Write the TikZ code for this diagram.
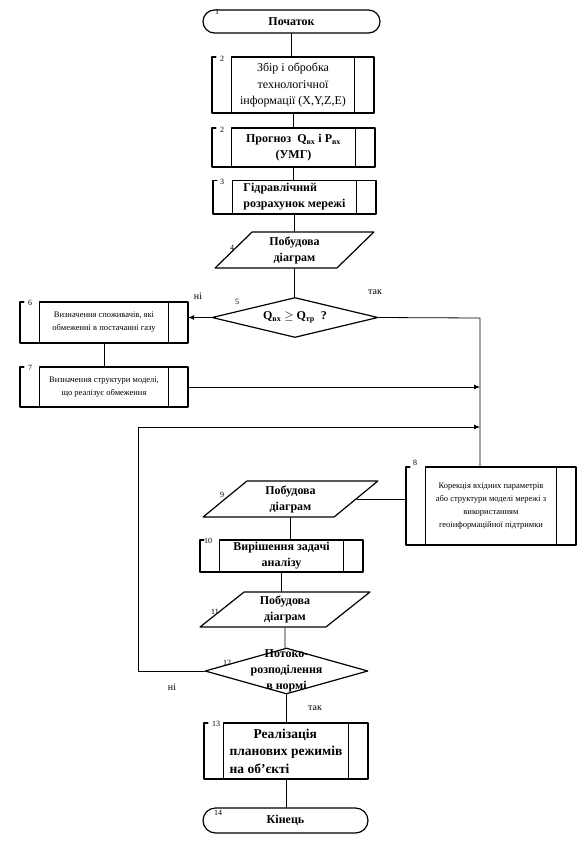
\documentclass[tikz,border=0pt]{standalone}
\usepackage{fontspec}
\setmainfont{Liberation Serif}
\usetikzlibrary{shapes.geometric,arrows.meta}

\tikzset{
  proc/.style={inner sep=0pt, align=center},
  io/.style={trapezium, trapezium stretches=true, draw, line width=1.2pt,
    trapezium left angle=#1, trapezium right angle=180-#1, inner sep=0pt, align=center},
  cond/.style={diamond, draw, line width=1.2pt, inner sep=0pt},
  term/.style={rectangle, draw, line width=1.2pt, inner sep=0pt},
  conn/.style={line width=0.8pt},
  arr/.style={conn, -{Latex[length=6pt,width=5pt]}},
  bt/.style={font=\fontsize{12}{16}\selectfont\bfseries},
  rt/.style={font=\fontsize{12}{16.5}\selectfont},
  st/.style={font=\fontsize{8.5}{13}\selectfont},
  num/.style={font=\fontsize{8}{8}\selectfont, inner sep=0pt},
  lbl/.style={font=\fontsize{10}{10}\selectfont, inner sep=0pt}
}

% frame of a predefined process around a node
\newcommand\procframe[1]{%
  \draw[line width=1.6pt] ([xshift=4pt]#1.north west) -- (#1.north west) -- (#1.south west)
    -- (#1.south east) -- (#1.north east) -- ([xshift=20pt]#1.north west);
  \draw[line width=0.8pt] ([xshift=20pt]#1.north west) -- ([xshift=20pt]#1.south west)
    ([xshift=-20pt]#1.north east) -- ([xshift=-20pt]#1.south east);
}

\begin{document}
\begin{tikzpicture}[x=1pt,y=-1pt,line cap=round,line join=round]
  \useasboundingbox (0,0) rectangle (584,841);

  \node[term, bt, rounded corners=11.5pt, minimum width=177pt, minimum height=23pt] (start) at (291.5,21.5) {Початок};
  \node[proc, rt, minimum width=162pt, minimum height=56pt] (zbir) at (293,85) {Збір і обробка\\технологічної\\інформації (X,Y,Z,E)};
  \node[proc, bt, minimum width=163pt, minimum height=39pt] (prog) at (293.5,147.5) {Прогноз\ \ Q\textsubscript{вх} і P\textsubscript{вх}\\(УМГ)};
  \node[proc, bt, align=left, minimum width=163pt, minimum height=33pt] (hydr) at (294.5,197) {Гідравлічний\\розрахунок мережі};
  \node[io=51, bt, minimum width=159pt, minimum height=36pt] (diag1) at (294.5,250) {Побудова\\діаграм};
  \node[cond, minimum width=166pt, minimum height=40pt] (check) at (295,317.5) {};
  \node[bt] (checkt) at (check) {Q\textsubscript{вх} $\geq$ Q\textsubscript{тр}\ \ ?};
  \node[proc, st, minimum width=168pt, minimum height=41pt] (spoz) at (104,322.5) {Визначення споживачів, які\\обмеженні в постачанні газу};
  \node[proc, st, minimum width=168pt, minimum height=40pt] (strukt) at (104,387) {Визначення структури моделі,\\що реалізує обмеження};
  \node[proc, st, minimum width=170pt, minimum height=78pt] (korek) at (491,506) {Корекція вхідних параметрів\\або структури моделі мережі з\\використанням\\геоінформаційної підтримки};
  \node[io=47, bt, minimum width=175pt, minimum height=36pt] (diag2) at (290.5,499) {Побудова\\діаграм};
  \node[proc, bt, minimum width=163pt, minimum height=32pt] (anal) at (281.5,556) {Вирішення задачі\\аналізу};
  \node[io=45, bt, minimum width=170pt, minimum height=35pt] (diag3) at (285,609.5) {Побудова\\діаграм};
  \node[cond, minimum width=163pt, minimum height=46pt] (norm) at (286.5,671) {};
  \node[bt, align=center] (normt) at (norm) {Потоко-\\розподілення\\в нормі};
  \node[proc, align=left, font=\fontsize{13.5}{17.5}\selectfont\bfseries, minimum width=164pt, minimum height=56pt] (real) at (286,751) {\hspace*{24pt}Реалізація\\планових режимів\\на об'єкті};
  \node[term, bt, rounded corners=12.5pt, minimum width=165pt, minimum height=25pt] (stop) at (285.5,820.5) {Кінець};

  \procframe{zbir}
  \procframe{prog}
  \procframe{hydr}
  \procframe{spoz}
  \procframe{strukt}
  \procframe{korek}
  \procframe{anal}
  \procframe{real}

  \foreach \n/\x/\y [count=\i] in {1/217/12, 2/222/59, 2/222/130, 3/222/182, 4/232/248,
      5/237/302, 6/30/303, 7/30/368, 8/415/463, 9/222/495, 10/208/541, 11/215/612,
      12/227/663, 13/216/724, 14/218/813}
    \node[num] (num\i) at (\x,\y) {\n};

  \coordinate (join) at (480,318);
  \coordinate (back) at (138,427);

  % main line
  \draw[conn] (start) -- (start |- zbir.north);
  \draw[conn] (zbir) -- (zbir |- prog.north);
  \draw[conn] (prog) -- (prog |- hydr.north);
  \draw[conn] (hydr) -- (hydr |- diag1.north);
  \draw[conn] (diag1) -- (diag1 |- check.north);
  \draw[conn] (diag2) -- (diag2 |- anal.north);
  \draw[conn] (anal) -- (anal |- diag3.north);
  \draw[conn] (diag3) -- (diag3 |- norm.north);
  \draw[conn] (norm) -- (norm |- real.north);
  \draw[conn] (real) -- (real |- stop.north);

  % branches
  \draw[arr] (check.west) -- (check.west -| spoz.east);
  \draw[conn] (spoz) -- (spoz |- strukt.north);
  \draw[conn] (check.east) -- (join) -- (join |- korek.north);
  \draw[arr] (strukt.east) -- (strukt.east -| join);
  \draw[arr] (norm.west) -| (back) -- (back -| join);
  \draw[conn] (diag2.east) -- (diag2.east -| korek.west);

  \node[lbl] (yes1) at (375,292) {так};
  \node[lbl] (no1) at (198,296) {ні};
  \node[lbl] (no2) at (172,687) {ні};
  \node[lbl] (yes2) at (315,708) {так};
\end{tikzpicture}
\end{document}
